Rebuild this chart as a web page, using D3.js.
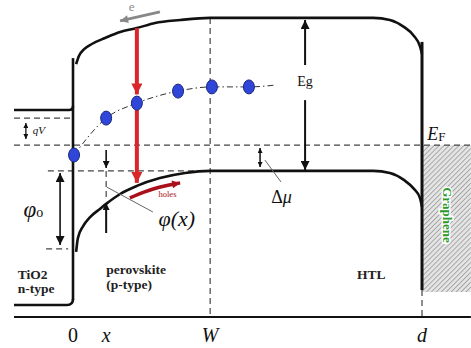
<!DOCTYPE html>
<html>
<head>
<meta charset="utf-8">
<script src="https://cdn.jsdelivr.net/npm/d3@7"></script>
<style>
  body { margin: 0; background: #fff; }
  svg { display: block; }
  svg text { font-family: "Liberation Serif", "Times New Roman", Times, "DejaVu Serif", serif; }
</style>
</head>
<body>
<svg id="chart" width="471" height="348"></svg>
<script>
// position: 0 = TiO2/perovskite interface, 10 = d (graphene contact)
// energy: arbitrary units, 0 = bottom axis
var conductionBand = [[0.09,8.43],[0.17,8.70],[0.32,8.93],[0.54,9.10],[0.92,9.30],[1.35,9.50],[1.83,9.63],
  [2.35,9.80],[3.07,9.90],[3.93,9.97],[8.60,9.97],[9.08,9.90],[9.48,9.67],[9.77,9.37],[9.94,9.03],[10.0,8.77]];
var valenceBand = [[0.09,2.17],[0.14,2.63],[0.29,3.03],[0.49,3.33],[0.77,3.60],[0.95,3.77],[1.35,4.10],
  [1.83,4.37],[2.49,4.63],[3.21,4.80],[3.93,4.87],[8.60,4.87],[9.08,4.80],[9.48,4.57],[9.77,4.27],[9.94,3.97],[10.0,3.67]];
var electrons = [[0.03,5.40],[0.95,6.63],[1.83,7.13],[3.01,7.53],[3.98,7.67],[5.04,7.67]];
var trailEnd = [5.79,7.73];
var holesPath = [[1.63,3.97],[2.30,4.30],[3.07,4.47]];

var tio2CB = 6.9, tio2Bottom = 0.4, fermiLevel = 5.73, quasiFermi = 6.63, vbFlat = 4.87;
var interfaceTop = 8.63, contactTop = 9.17, contactBottom = 0.9;
var posX = 0.95, posW = 3.93, posD = 10, leftEdge = -1.69, rightEdge = 11.4;

var tickLabels = [
  {pos: 0, text: "0", italic: false},
  {pos: posX, text: "x", italic: true},
  {pos: posW, text: "W", italic: true},
  {pos: posD, text: "d", italic: true}
];
var regionLabels = [
  {x: -1.58, y: 1.27, text: "TiO2"}, {x: -1.58, y: 0.80, text: "n-type"},
  {x: 0.95, y: 1.43, text: "perovskite"}, {x: 0.95, y: 0.93, text: "(p-type)"},
  {x: 8.14, y: 1.27, text: "HTL"}
];

var svg = d3.select("#chart");
var x = d3.scaleLinear().domain([0, 10]).range([73, 422]);
var y = d3.scaleLinear().domain([0, 10]).range([317, 17]);
var line = d3.line().x(function(d){ return x(d[0]); }).y(function(d){ return y(d[1]); });

var defs = svg.append("defs");
function marker(id, color, w, h) {
  defs.append("marker").attr("id", id)
    .attr("viewBox", "0 0 10 10").attr("refX", 10).attr("refY", 5)
    .attr("markerUnits", "userSpaceOnUse")
    .attr("markerWidth", w).attr("markerHeight", h)
    .attr("orient", "auto-start-reverse")
    .append("path").attr("d", "M0,0 L10,5 L0,10 z").attr("fill", color);
}
marker("headL", "#111", 13, 9);
marker("headM", "#111", 10, 7);
marker("headS", "#111", 6, 5);
marker("headRed", "#d8262a", 20, 11);
marker("headHoles", "#a8101c", 9, 8);
marker("headGray", "#888", 10, 8);

var hatch = defs.append("pattern").attr("id", "hatch")
  .attr("patternUnits", "userSpaceOnUse").attr("width", 3.5).attr("height", 3.5)
  .attr("patternTransform", "rotate(45)");
hatch.append("rect").attr("width", 3.5).attr("height", 3.5).attr("fill", "#e4e4e4");
hatch.append("line").attr("x1", 0).attr("y1", 0).attr("x2", 0).attr("y2", 3.5)
  .attr("stroke", "#8a8a8a").attr("stroke-width", 1.3);

// graphene
svg.append("rect").attr("x", x(posD)).attr("y", y(fermiLevel))
  .attr("width", x(rightEdge) - x(posD)).attr("height", y(contactBottom) - y(fermiLevel) + 2)
  .attr("fill", "url(#hatch)");

function dashed(x1, y1, x2, y2) {
  svg.append("line").attr("x1", x(x1)).attr("y1", y(y1)).attr("x2", x(x2)).attr("y2", y(y2))
    .attr("stroke", "#444").attr("stroke-width", 1.2).attr("stroke-dasharray", "6,4");
}
dashed(leftEdge, fermiLevel, rightEdge, fermiLevel);
dashed(leftEdge, quasiFermi, 0, quasiFermi);
dashed(-0.72, vbFlat, 3.7, vbFlat);
dashed(-0.77, 2.27, -0.14, 2.27);
dashed(posW, 9.97, posW, 0);
dashed(posX, vbFlat, posX, 4.0);
dashed(posD, contactBottom, posD, 0);

// bands
svg.append("path").datum(conductionBand).attr("d", line.curve(d3.curveMonotoneX))
  .attr("fill", "none").attr("stroke", "#111").attr("stroke-width", 2.6);
svg.append("path").datum(valenceBand).attr("d", line.curve(d3.curveMonotoneX))
  .attr("fill", "none").attr("stroke", "#111").attr("stroke-width", 2.6);
line.curve(d3.curveLinear);

// TiO2 side
svg.append("path")
  .attr("d", "M" + x(leftEdge) + "," + y(tio2CB) + "H" + (x(0) - 4) + "Q" + x(0) + "," + y(tio2CB) + " " + x(0) + "," + (y(tio2CB) - 4))
  .attr("fill", "none").attr("stroke", "#111").attr("stroke-width", 2.6);
svg.append("path")
  .attr("d", "M" + x(leftEdge) + "," + y(tio2Bottom) + "H" + (x(0) - 6) + "Q" + x(0) + "," + y(tio2Bottom) + " " + x(0) + "," + (y(tio2Bottom) - 6))
  .attr("fill", "none").attr("stroke", "#111").attr("stroke-width", 2.6);
svg.append("line").attr("x1", x(0)).attr("x2", x(0)).attr("y1", y(interfaceTop)).attr("y2", y(tio2Bottom) - 5)
  .attr("stroke", "#111").attr("stroke-width", 2.6);
// contact wall
svg.append("line").attr("x1", x(posD)).attr("x2", x(posD)).attr("y1", y(contactTop)).attr("y2", y(contactBottom))
  .attr("stroke", "#111").attr("stroke-width", 3);

// bottom axis
svg.append("line").attr("x1", x(leftEdge)).attr("x2", x(rightEdge)).attr("y1", y(0)).attr("y2", y(0))
  .attr("stroke", "#111").attr("stroke-width", 2);

// electron trail and electrons
svg.append("path").datum(electrons.concat([trailEnd])).attr("d", line.curve(d3.curveMonotoneX))
  .attr("fill", "none").attr("stroke", "#333").attr("stroke-width", 1).attr("stroke-dasharray", "6,3,1.5,3");
line.curve(d3.curveLinear);

function arrow(x1, y1, x2, y2, head, opts) {
  opts = opts || {};
  var l = svg.append("line").attr("x1", x(x1)).attr("y1", y(y1)).attr("x2", x(x2)).attr("y2", y(y2))
    .attr("stroke", opts.color || "#111").attr("stroke-width", opts.width || 1.6)
    .attr("marker-end", "url(#" + head + ")");
  if (opts.both) l.attr("marker-start", "url(#" + head + ")");
  return l;
}
// red drop arrows
arrow(1.83, 9.63, 1.83, 7.42, "headRed", {color: "#d8262a", width: 4});
arrow(1.83, 6.9, 1.83, 4.47, "headRed", {color: "#d8262a", width: 4});

svg.selectAll("ellipse.electron").data(electrons).enter().append("ellipse")
  .attr("class", "electron")
  .attr("cx", function(d){ return x(d[0]); }).attr("cy", function(d){ return y(d[1]); })
  .attr("rx", 5.5).attr("ry", 7).attr("fill", "#2f46d8").attr("stroke", "#1c2a80").attr("stroke-width", 1);

arrow(-1.35, 6.47, -1.35, 5.93, "headS", {both: true, width: 1.3});
arrow(-0.37, 4.8, -0.37, 2.4, "headL", {both: true});
arrow(posX, 5.57, posX, 4.97, "headM");
arrow(posX, 2.8, posX, 3.8, "headM", {width: 2});
arrow(5.36, 5.63, 5.36, 5.0, "headS", {both: true, width: 1.5});
arrow(6.65, 8.4, 6.65, 9.9, "headL", {width: 2});
arrow(6.65, 7.23, 6.65, 4.9, "headL", {width: 2});
arrow(2.49, 10.17, 1.35, 9.87, "headGray", {color: "#888", width: 3});
svg.append("path").datum(holesPath).attr("d", line.curve(d3.curveBasis))
  .attr("fill", "none").attr("stroke", "#a8101c").attr("stroke-width", 3.5)
  .attr("marker-end", "url(#headHoles)");
line.curve(d3.curveLinear);

// leader lines
svg.append("line").attr("x1", x(0.97)).attr("y1", y(4.33)).attr("x2", x(2.29)).attr("y2", y(3.5))
  .attr("stroke", "#666").attr("stroke-width", 1);
svg.append("line").attr("x1", x(5.5)).attr("y1", y(5.23)).attr("x2", x(5.96)).attr("y2", y(4.5))
  .attr("stroke", "#666").attr("stroke-width", 1);

// labels
function label(px, py, size, txt) {
  return svg.append("text").attr("x", x(px)).attr("y", y(py)).attr("font-size", size).attr("fill", "#111").text(txt);
}
label(1.6, 10.2, 13, "e").attr("fill", "#888");
label(6.65, 7.7, 14, "Eg").attr("text-anchor", "middle");
label(-1.15, 6.1, 11, "qV").attr("font-style", "italic");
var phiO = label(-1.42, 3.35, 23, "φ").attr("font-style", "italic");
phiO.append("tspan").attr("font-size", 14).attr("font-style", "normal").text("o");
label(2.45, 3.03, 22, "φ(x)").attr("font-style", "italic");
label(2.45, 4.0, 8.5, "holes").attr("fill", "#a8101c");
var dmu = label(5.68, 3.8, 18, "Δ");
dmu.append("tspan").attr("font-style", "italic").text("μ");
var ef = label(10.15, 5.9, 18, "E").attr("font-style", "italic");
ef.append("tspan").attr("font-size", 13).attr("font-style", "normal").attr("dy", 1).text("F");

svg.append("text")
  .attr("transform", "translate(" + (x(posD) + 21) + "," + y(3.4) + ") rotate(90)")
  .attr("text-anchor", "middle").attr("font-size", 13).attr("font-weight", "bold")
  .attr("fill", "#2e9a2e").attr("stroke", "#fff").attr("stroke-width", 3)
  .attr("paint-order", "stroke").text("Graphene");

svg.selectAll("text.region").data(regionLabels).enter().append("text")
  .attr("class", "region")
  .attr("x", function(d){ return x(d.x); }).attr("y", function(d){ return y(d.y); })
  .attr("font-size", 13.5).attr("font-weight", "bold").attr("fill", "#222")
  .text(function(d){ return d.text; });

svg.selectAll("text.tick").data(tickLabels).enter().append("text")
  .attr("class", "tick")
  .attr("x", function(d){ return x(d.pos); }).attr("y", y(-0.83))
  .attr("text-anchor", "middle").attr("font-size", 20).attr("fill", "#111")
  .attr("font-style", function(d){ return d.italic ? "italic" : "normal"; })
  .text(function(d){ return d.text; });
</script>
</body>
</html>
